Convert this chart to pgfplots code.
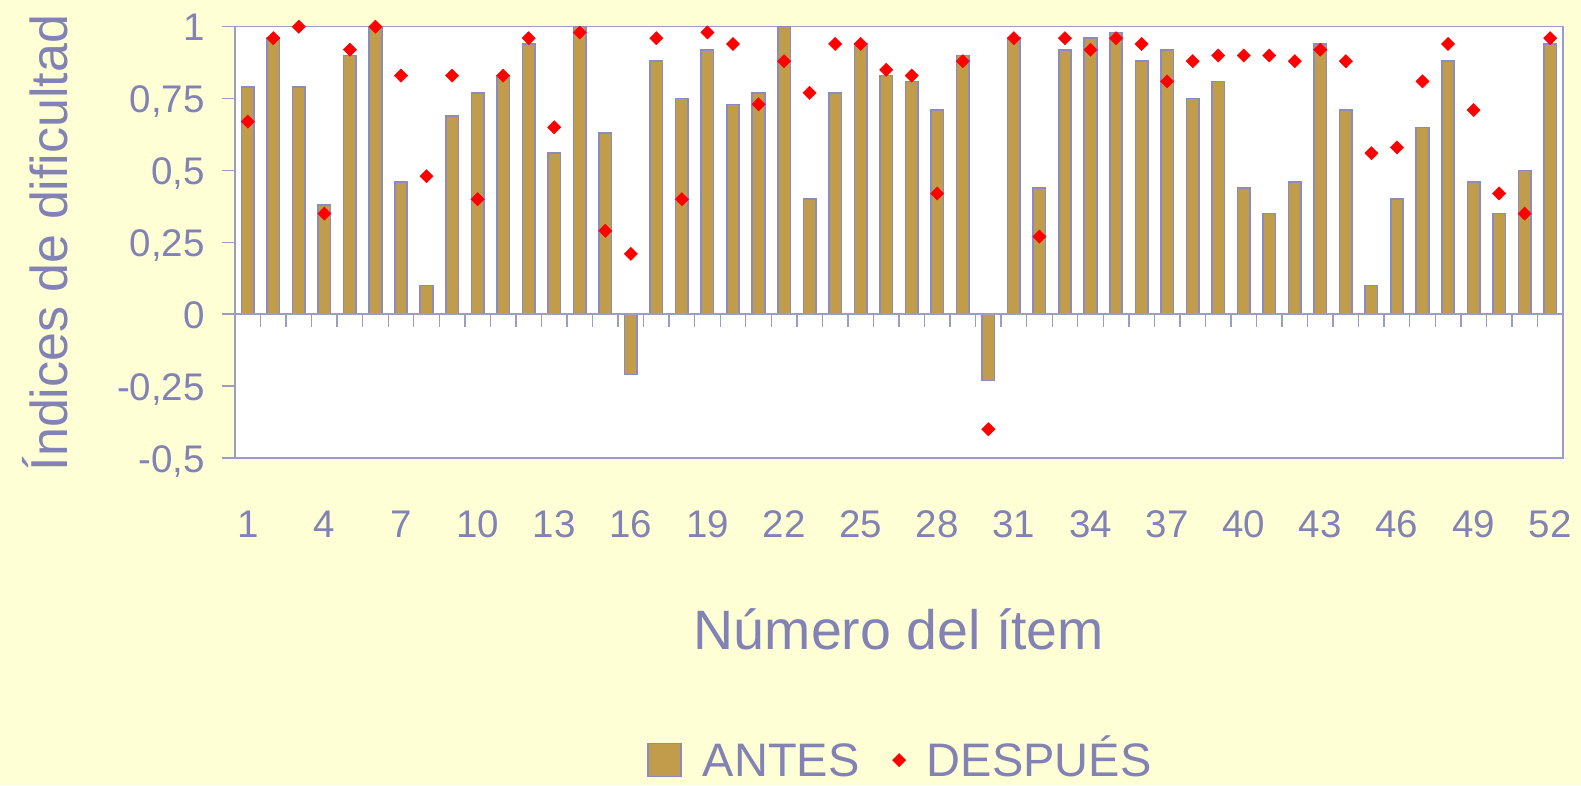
\documentclass[border=0pt]{standalone}
\usepackage{fontspec}
\setmainfont{Liberation Sans}
\usepackage{pgfplots}
\pgfplotsset{compat=1.18}
\definecolor{bg}{HTML}{FFFFD6}
\definecolor{txt}{HTML}{8282B4}
\definecolor{barfill}{HTML}{C19D4B}
\definecolor{baredge}{HTML}{8A8CC0}
\definecolor{frame}{HTML}{9C9CC6}
\pgfplotsset{diamleg/.style={legend image code/.code={\draw[#1] plot coordinates {(7pt,0pt)};}}}
\begin{document}
\begin{tikzpicture}
\fill[bg] (0pt,0pt) rectangle (1581pt,785pt);
\begin{axis}[
  at={(235pt,327pt)}, anchor=south west,
  scale only axis, width=1328pt, height=431.3pt,
  xmin=0.5, xmax=52.5, ymin=-0.5, ymax=1,
  clip=false,
  axis background/.style={fill=white},
  axis line style={draw=frame, line width=1.6pt},
  xtick={1,4,...,52},
  xticklabels={1,4,7,10,13,16,19,22,25,28,31,34,37,40,43,46,49,52},
  x tick style={draw=none},
  xtick align=inside,
  major tick length=13pt,
  ytick={-0.5,-0.25,0,0.25,0.5,0.75,1},
  yticklabels={{-0,5},{-0,25},{0},{0,25},{0,5},{0,75},{1}},
  ytick align=outside,
  ytick pos=left,
  y tick style={draw=frame, line width=1.6pt},
  tick label style={font=\fontsize{38.5}{46}\selectfont, text=txt},
  xticklabel style={anchor=base, yshift=-79pt},
  yticklabel style={anchor=base east, inner sep=0pt, xshift=-17pt, yshift=-14pt},
  xlabel={Número del ítem},
  xlabel style={at={(axis description cs:0.5,-0.4429)}, anchor=base, font=\fontsize{55.5}{64}\selectfont, text=txt},
  ylabel={Índices de dificultad},
  ylabel style={at={(axis description cs:-0.1265,0.4985)}, anchor=base, font=\fontsize{52}{60}\selectfont, text=txt},
  legend columns=2,
  legend style={at={(axis description cs:0.5003,-0.7005)}, anchor=center, draw=none, fill=none,
    font=\fontsize{47}{54}\selectfont, text=txt, inner sep=0pt,
    nodes={inner sep=0pt, text depth=0pt, text height=33.6pt},
    /tikz/every odd column/.append style={column sep=21pt},
    /tikz/every even column/.append style={column sep=33pt}},
  legend cell align=left,
]
\addplot[ybar, bar width=12.5pt, fill=barfill, draw=baredge, line width=1.6pt,
  legend image code/.code={\draw[fill=barfill, draw=baredge, line width=1.5pt] (0pt,-16.5pt) rectangle (33pt,16.5pt);}]
coordinates {
(1,0.79) (2,0.96) (3,0.79) (4,0.38) (5,0.90) (6,1.00) (7,0.46) (8,0.10) (9,0.69) (10,0.77)
(11,0.83) (12,0.94) (13,0.56) (14,1.00) (15,0.63) (16,-0.21) (17,0.88) (18,0.75) (19,0.92) (20,0.73)
(21,0.77) (22,1.00) (23,0.40) (24,0.77) (25,0.94) (26,0.83) (27,0.81) (28,0.71) (29,0.90) (30,-0.23)
(31,0.96) (32,0.44) (33,0.92) (34,0.96) (35,0.98) (36,0.88) (37,0.92) (38,0.75) (39,0.81) (40,0.44)
(41,0.35) (42,0.46) (43,0.94) (44,0.71) (45,0.10) (46,0.40) (47,0.65) (48,0.88) (49,0.46) (50,0.35)
(51,0.50) (52,0.94)
};
\addlegendentry{ANTES}
\draw[frame, line width=1.6pt] (axis cs:0.5,0) -- (axis cs:52.5,0);
\pgfplotsinvokeforeach{0,...,52}{\draw[frame, line width=1.4pt] (axis cs:#1.5,0) -- ++(0pt,-13pt);}
\addplot[only marks, mark=square*, mark size=4.7pt, mark options={rotate=45, fill=red, draw=red}, color=red, diamleg]
coordinates {
(1,0.67) (2,0.96) (3,1.00) (4,0.35) (5,0.92) (6,1.00) (7,0.83) (8,0.48) (9,0.83) (10,0.40)
(11,0.83) (12,0.96) (13,0.65) (14,0.98) (15,0.29) (16,0.21) (17,0.96) (18,0.40) (19,0.98) (20,0.94)
(21,0.73) (22,0.88) (23,0.77) (24,0.94) (25,0.94) (26,0.85) (27,0.83) (28,0.42) (29,0.88) (30,-0.40)
(31,0.96) (32,0.27) (33,0.96) (34,0.92) (35,0.96) (36,0.94) (37,0.81) (38,0.88) (39,0.90) (40,0.90)
(41,0.90) (42,0.88) (43,0.92) (44,0.88) (45,0.56) (46,0.58) (47,0.81) (48,0.94) (49,0.71) (50,0.42)
(51,0.35) (52,0.96)
};
\addlegendentry{DESPUÉS}
\end{axis}
\pgfresetboundingbox
\path[use as bounding box] (0pt,0pt) rectangle (1581pt,785pt);
\end{tikzpicture}
\end{document}
